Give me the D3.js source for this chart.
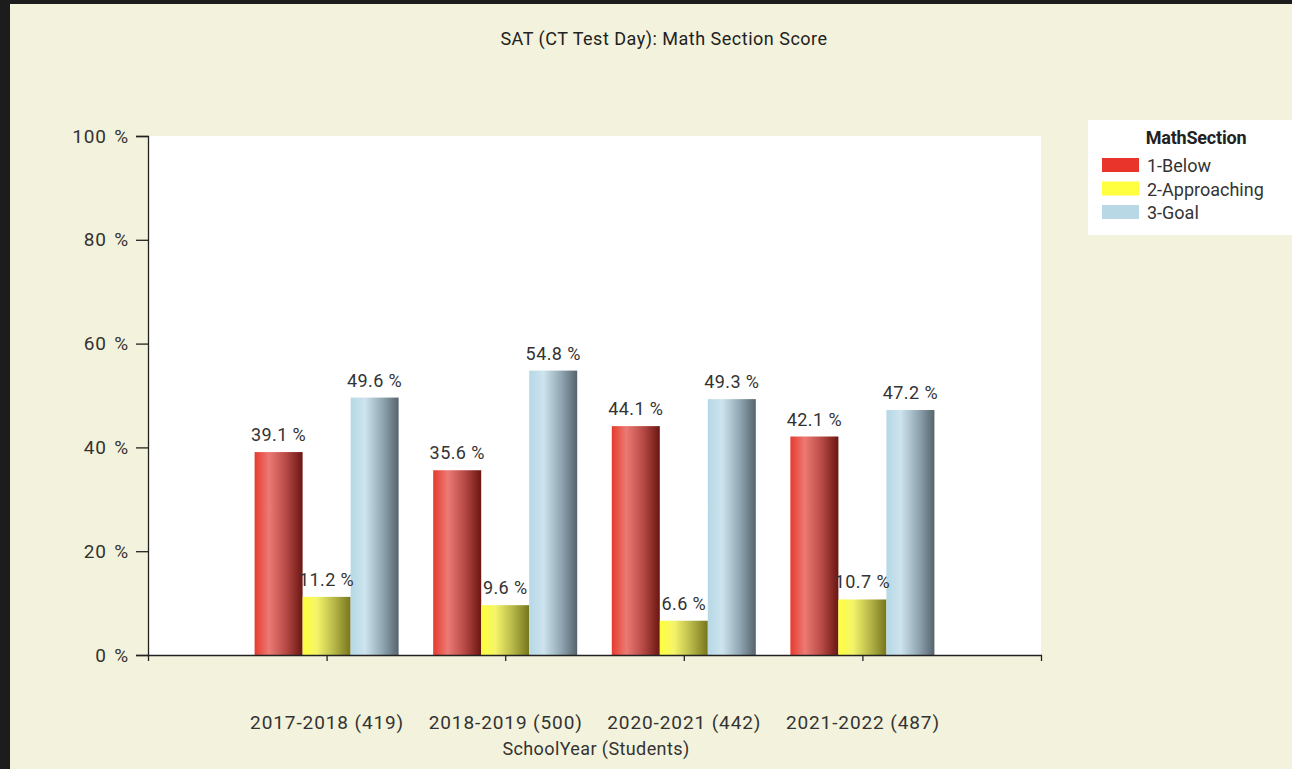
<!DOCTYPE html>
<html>
<head>
<meta charset="utf-8">
<script src="https://cdn.jsdelivr.net/npm/d3@7"></script>
<style>
  html, body { margin: 0; padding: 0; background: #1c1c1c; }
  svg { display: block; font-family: Roboto, "Liberation Sans", sans-serif; }
</style>
</head>
<body>
<div id="chart"></div>
<script>
const categories = ['2017-2018 (419)', '2018-2019 (500)', '2020-2021 (442)', '2021-2022 (487)'];
const seriesNames = ['1-Below', '2-Approaching', '3-Goal'];
const below = [39.1, 35.6, 44.1, 42.1];
const approaching = [11.2, 9.6, 6.6, 10.7];
const goal = [49.6, 54.8, 49.3, 47.2];
const yTicks = [0, 20, 40, 60, 80, 100];

const seriesValues = [below, approaching, goal];
const swatchColors = ['#e8342a', '#ffff40', '#b8d8e6'];
// left -> right stops for the cylinder look
const gradStops = [
  ['#e63a2e', '#ec7a74', '#b84a46', '#6a1612'],
  ['#ffff3c', '#f4f46a', '#b8b84a', '#76761c'],
  ['#b6d8e6', '#cde4ee', '#93aab6', '#56636c']
];

const width = 1292;
const height = 769;
const plot = { left: 148, right: 1041, top: 136, bottom: 655 };
const barWidth = 48;

const svg = d3.select('#chart')
  .append('svg')
  .attr('width', width)
  .attr('height', height);

// background with dark frame on top / left
svg.append('rect').attr('width', width).attr('height', height).attr('fill', '#1c1c1c');
svg.append('rect')
  .attr('x', 10).attr('y', 4)
  .attr('width', width - 10).attr('height', height - 4)
  .attr('fill', '#f3f2dc');

const defs = svg.append('defs');
gradStops.forEach((stops, i) => {
  const g = defs.append('linearGradient')
    .attr('id', `grad${i}`)
    .attr('x1', '0%').attr('x2', '100%').attr('y1', '0%').attr('y2', '0%');
  [0, 0.3, 0.65, 1].forEach((o, j) => {
    g.append('stop').attr('offset', o).attr('stop-color', stops[j]);
  });
});

svg.append('rect')
  .attr('x', plot.left).attr('y', plot.top)
  .attr('width', plot.right - plot.left).attr('height', plot.bottom - plot.top)
  .attr('fill', '#ffffff');

const x = d3.scalePoint()
  .domain(categories)
  .range([plot.left, plot.right])
  .padding(1);

const y = d3.scaleLinear()
  .domain([0, 100])
  .range([plot.bottom, plot.top]);

const xSub = d3.scaleBand()
  .domain(seriesNames)
  .range([-barWidth * 1.5, barWidth * 1.5]);

// title
svg.append('text')
  .attr('x', 664).attr('y', 45)
  .attr('text-anchor', 'middle')
  .attr('font-size', 18)
  .attr('letter-spacing', 0.5)
  .attr('fill', '#222')
  .text('SAT (CT Test Day): Math Section Score');

// bars
const groups = svg.selectAll('.group')
  .data(categories)
  .join('g')
  .attr('class', 'group')
  .attr('transform', d => `translate(${x(d)},0)`);

groups.selectAll('rect')
  .data((d, ci) => seriesNames.map((s, si) => ({ s, si, v: seriesValues[si][ci] })))
  .join('rect')
  .attr('x', d => xSub(d.s))
  .attr('width', xSub.bandwidth())
  .attr('y', d => y(d.v))
  .attr('height', d => y(0) - y(d.v))
  .attr('fill', d => `url(#grad${d.si})`);

groups.selectAll('text.val')
  .data((d, ci) => seriesNames.map((s, si) => ({ s, si, v: seriesValues[si][ci] })))
  .join('text')
  .attr('class', 'val')
  .attr('x', d => xSub(d.s) + xSub.bandwidth() / 2)
  .attr('y', d => y(d.v) - 11)
  .attr('text-anchor', 'middle')
  .attr('font-size', 18)
  .attr('letter-spacing', 0.4)
  .attr('fill', '#333')
  .text(d => `${d.v.toFixed(1)} %`);

// y axis
const yAxis = svg.append('g')
  .attr('transform', `translate(${plot.left},0)`)
  .call(d3.axisLeft(y).tickValues(yTicks).tickSize(12).tickPadding(7).tickFormat(d => `${d} %`));
yAxis.select('.domain').attr('stroke', '#222').attr('stroke-width', 1.3);
yAxis.selectAll('line').attr('stroke', '#222').attr('stroke-width', 1.3);
yAxis.selectAll('text')
  .attr('font-family', 'Roboto, sans-serif')
  .attr('font-size', 19)
  .attr('letter-spacing', 0.8)
  .attr('word-spacing', 2)
  .attr('fill', '#333');

// x axis
const xAxis = svg.append('g')
  .attr('transform', `translate(0,${plot.bottom})`)
  .call(d3.axisBottom(x).tickSize(6).tickPadding(55).tickSizeOuter(6));
xAxis.select('.domain').attr('stroke', '#222').attr('stroke-width', 1.3);
xAxis.selectAll('line').attr('stroke', '#222').attr('stroke-width', 1.3);
xAxis.selectAll('text')
  .attr('font-family', 'Roboto, sans-serif')
  .attr('font-size', 19)
  .attr('letter-spacing', 0.9)
  .attr('fill', '#333');

svg.append('text')
  .attr('x', 596).attr('y', 755)
  .attr('text-anchor', 'middle')
  .attr('font-size', 18)
  .attr('letter-spacing', 0.4)
  .attr('fill', '#333')
  .text('SchoolYear (Students)');

// legend
const legend = svg.append('g').attr('transform', 'translate(1088,120)');
legend.append('rect')
  .attr('width', 204).attr('height', 115)
  .attr('fill', '#ffffff');
legend.append('text')
  .attr('x', 108).attr('y', 24)
  .attr('text-anchor', 'middle')
  .attr('font-size', 18)
  .attr('font-weight', 'bold')
  .attr('letter-spacing', -0.2)
  .attr('fill', '#222')
  .text('MathSection');
const items = legend.selectAll('.item')
  .data(seriesNames)
  .join('g')
  .attr('class', 'item')
  .attr('transform', (d, i) => `translate(14,${38 + i * 23.5})`);
items.append('rect')
  .attr('width', 37).attr('height', 14)
  .attr('fill', (d, i) => swatchColors[i]);
items.append('text')
  .attr('x', 45).attr('y', 14)
  .attr('font-size', 18)
  .attr('fill', '#333')
  .text(d => d);
</script>
</body>
</html>
